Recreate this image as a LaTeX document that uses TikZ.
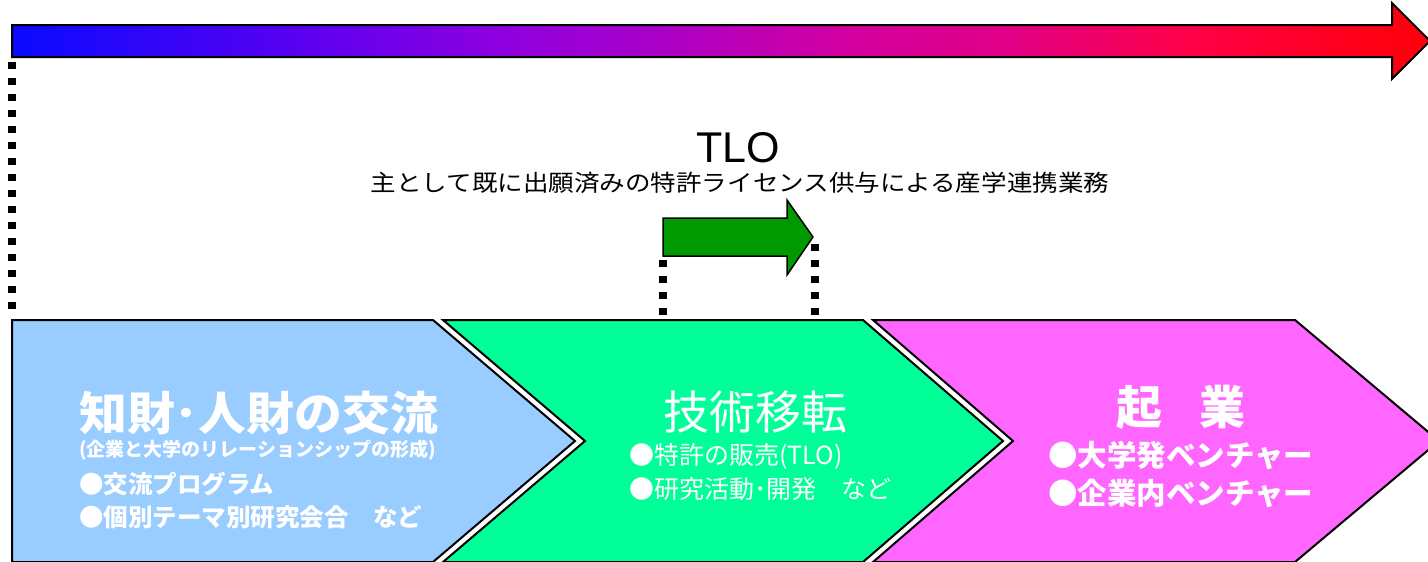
\documentclass[tikz,border=0pt]{standalone}
\usepackage{fontspec}
\newfontfamily\jp{Noto Sans CJK JP}
\newfontfamily\jpw[FakeStretch=1.11]{Noto Sans CJK JP}
\newfontfamily\jpt[FakeStretch=1.04]{Noto Sans CJK JP}
\setmainfont{Liberation Sans}
\definecolor{cblue}{HTML}{99CCFF}
\definecolor{cgreen}{HTML}{00FF99}
\definecolor{cmag}{HTML}{FF66FF}
\definecolor{darrow}{HTML}{009900}
\definecolor{g0}{HTML}{0A0AFF}
\definecolor{g1}{HTML}{5A00F0}
\definecolor{g2}{HTML}{8E00E0}
\definecolor{g3}{HTML}{A800C8}
\definecolor{g4}{HTML}{D400A0}
\definecolor{g5}{HTML}{E00088}
\definecolor{g6}{HTML}{FF0044}
\definecolor{g7}{HTML}{FF0010}
\pgfdeclarehorizontalshading{topgrad}{100bp}{color(0bp)=(g0); color(25bp)=(g0); color(35.15bp)=(g1); color(42.2bp)=(g2); color(47.5bp)=(g3); color(54.55bp)=(g4); color(59.85bp)=(g5); color(66.9bp)=(g6); color(73.95bp)=(g7); color(75bp)=(g7); color(100bp)=(g7)}
\tikzset{
  chev/.style={draw=black, line width=2pt, line join=miter},
  dots/.style={line width=7.5pt, dash pattern=on 7pt off 9pt},
  wtitle/.style={text=white, inner sep=0pt, font=\jp\fontsize{46}{46}\selectfont},
  witem/.style={text=white, inner sep=0pt, anchor=west},
}
\begin{document}
\begin{tikzpicture}[x=1pt,y=-1pt]
\useasboundingbox (0,0) rectangle (1428,562);
\clip (0,0) rectangle (1428,562);
% top gradient arrow
\path[draw=black, line width=2pt, shading=topgrad]
  (12,25) -- (1392,25) -- (1392,3) -- (1430,41) -- (1392,79) -- (1392,57) -- (12,57) -- cycle;
% chevrons
\draw[chev, fill=cblue] (12,320) -- (433,320) -- (575,441) -- (433,562) -- (12,562) -- cycle;
\draw[chev, fill=cgreen] (443,320) -- (863,320) -- (1003,441) -- (863,562) -- (443,562) -- (585,441) -- cycle;
\draw[chev, fill=cmag] (873,320) -- (1295,320) -- (1439,441) -- (1295,562) -- (873,562) -- (1013,441) -- cycle;
% green arrow
\draw[line width=1.5pt, fill=darrow, line join=miter] (663,218) -- (787,218) -- (787,200) -- (813,237) -- (787,275) -- (787,256) -- (663,256) -- cycle;
% dotted lines
\coordinate (l1) at (12,62); \coordinate (l2) at (12,318);
\coordinate (a1) at (663,260); \coordinate (a2) at (663,318);
\coordinate (b1) at (815,244); \coordinate (b2) at (815,318);
\draw[dots] (l1) -- (l2);
\draw[dots] (a1) -- (a2);
\draw[dots] (b1) -- (b2);
% TLO
\node[inner sep=0pt, font=\fontsize{43}{43}\selectfont] (tlo) at (738,148) {TLO};
\node[inner sep=0pt, font=\jpw\fontsize{23}{23}\selectfont] (tlosub) at (740,183) {主として既に出願済みの特許ライセンス供与による産学連携業務};
% chevron 1 text
\node[wtitle, anchor=west, font=\jpt\bfseries\fontsize{46}{46}\selectfont] (t1) at (79,413) {知財･人財の交流};
\node[witem, font=\jp\bfseries\fontsize{19}{19}\selectfont] (s1) at (79,450) {(企業と大学のリレーションシップの形成)};
\node[witem, font=\jp\bfseries\fontsize{24.5}{24.5}\selectfont] (i11) at (79,484) {●交流プログラム};
\node[witem, font=\jp\bfseries\fontsize{24.5}{24.5}\selectfont] (i12) at (79,517) {●個別テーマ別研究会合　など};
% chevron 2 text
\node[wtitle] (t2) at (755,412) {技術移転};
\node[witem, font=\jp\fontsize{25}{25}\selectfont] (i21) at (629,456) {●特許の販売(TLO)};
\node[witem, font=\jp\fontsize{25}{25}\selectfont] (i22) at (629,489) {●研究活動･開発　など};
% chevron 3 text
\node[wtitle, font=\jp\bfseries\fontsize{46}{46}\selectfont] (t3) at (1181,407) {起\hspace{0.8em}業};
\node[witem, font=\jp\bfseries\fontsize{29.5}{29.5}\selectfont] (i31) at (1048,455) {●大学発ベンチャー};
\node[witem, font=\jp\bfseries\fontsize{29.5}{29.5}\selectfont] (i32) at (1048,493) {●企業内ベンチャー};
\end{tikzpicture}
\end{document}
